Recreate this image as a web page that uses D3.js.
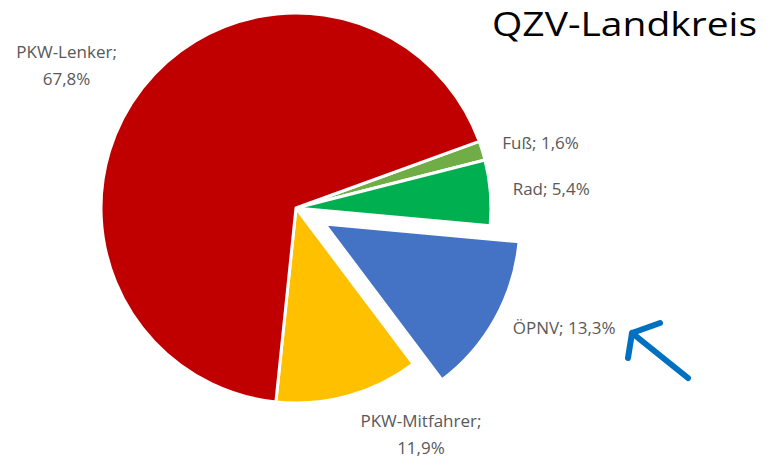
<!DOCTYPE html>
<html>
<head>
<meta charset="utf-8">
<script src="https://cdn.jsdelivr.net/npm/d3@7"></script>
<style>
  body { margin: 0; background: #fff; }
  #vis text { font-family: 'Open Sans', 'Noto Sans', sans-serif; }
</style>
</head>
<body>
<div id="vis"></div>
<script>
// mode shares (percent)
const categories = ['Fuß', 'Rad', 'ÖPNV', 'PKW-Mitfahrer', 'PKW-Lenker']
const shares = [1.6, 5.4, 13.3, 11.9, 67.8]
const sliceColors = ['#70AD47', '#00B050', '#4472C4', '#FFC000', '#C00000']
const highlighted = 'ÖPNV'
const title = 'QZV-Landkreis'

;(function() {
  const svg_width = 769,
        svg_height = 459,
        svg = d3.select('#vis').append('svg')

  svg.attr('width', svg_width)
    .attr('height', svg_height)

  const cx = 296, cy = 208, radius = 195, explode = 33
  const start = 70 * Math.PI / 180

  const data = categories.map((c, i) => ({ name: c, value: shares[i], color: sliceColors[i] }))

  const pie = d3.pie()
    .sort(null)
    .value(d => d.value)
    .startAngle(start)
    .endAngle(start + 2 * Math.PI)

  const arc = d3.arc().innerRadius(0).outerRadius(radius)
  const labelArc = d3.arc().innerRadius(258).outerRadius(258)

  const fmt = v => d3.format('.1f')(v).replace('.', ',') + '%'

  // shift of a slice along its bisector
  const offset = d => {
    if (d.data.name !== highlighted) return [0, 0]
    const mid = (d.startAngle + d.endAngle) / 2
    return [Math.sin(mid) * explode, -Math.cos(mid) * explode]
  }

  const arcs = pie(data)

  const slices = svg.append('g').attr('transform', `translate(${cx},${cy})`)
  slices.selectAll('path')
    .data(arcs)
    .join('path')
    .attr('d', arc)
    .attr('transform', d => `translate(${offset(d)})`)
    .attr('fill', d => d.data.color)
    .attr('stroke', '#fff')
    .attr('stroke-width', 3)
    .attr('stroke-linejoin', 'round')

  // labels: bisector at r=258 plus a hand nudge, like Excel's best fit
  const nudge = {
    'Fuß': [-2, 10],
    'Rad': [-2, 1],
    'ÖPNV': [14, -22],
    'PKW-Mitfahrer': [56, -23],
    'PKW-Lenker': [-26, 16]
  }
  const twoLines = ['PKW-Mitfahrer', 'PKW-Lenker']

  const labels = slices.selectAll('g.lab')
    .data(arcs)
    .join('g')
    .attr('class', 'lab')
    .attr('transform', d => {
      const c = labelArc.centroid(d), o = offset(d), n = nudge[d.data.name]
      return `translate(${c[0] + o[0] + n[0]},${c[1] + o[1] + n[1]})`
    })

  labels.each(function(d) {
    const g = d3.select(this)
    const lines = twoLines.includes(d.data.name)
      ? [d.data.name + ';', fmt(d.data.value)]
      : [d.data.name + '; ' + fmt(d.data.value)]
    const lh = 27
    g.selectAll('text')
      .data(lines)
      .join('text')
      .attr('x', 0)
      .attr('y', (t, i) => (i - (lines.length - 1) / 2) * lh)
      .attr('text-anchor', 'middle')
      .attr('dominant-baseline', 'central')
      .attr('font-size', 17)
      .attr('fill', '#595959')
      .text(t => t)
  })

  // title
  svg.append('text')
    .attr('x', 757)
    .attr('y', 36)
    .attr('text-anchor', 'end')
    .attr('font-size', 32)
    .attr('fill', '#000')
    .attr('textLength', 265)
    .attr('lengthAdjust', 'spacingAndGlyphs')
    .text(title)

  // hand-drawn arrow pointing at the ÖPNV label
  const p = d3.path()
  p.moveTo(688, 378); p.lineTo(632, 333)
  p.moveTo(660, 323); p.lineTo(632, 333); p.lineTo(628, 358)
  svg.append('path')
    .attr('d', p.toString())
    .attr('fill', 'none')
    .attr('stroke', '#0070C0')
    .attr('stroke-width', 6)
    .attr('stroke-linecap', 'round')
    .attr('stroke-linejoin', 'round')
}())
</script>
</body>
</html>
